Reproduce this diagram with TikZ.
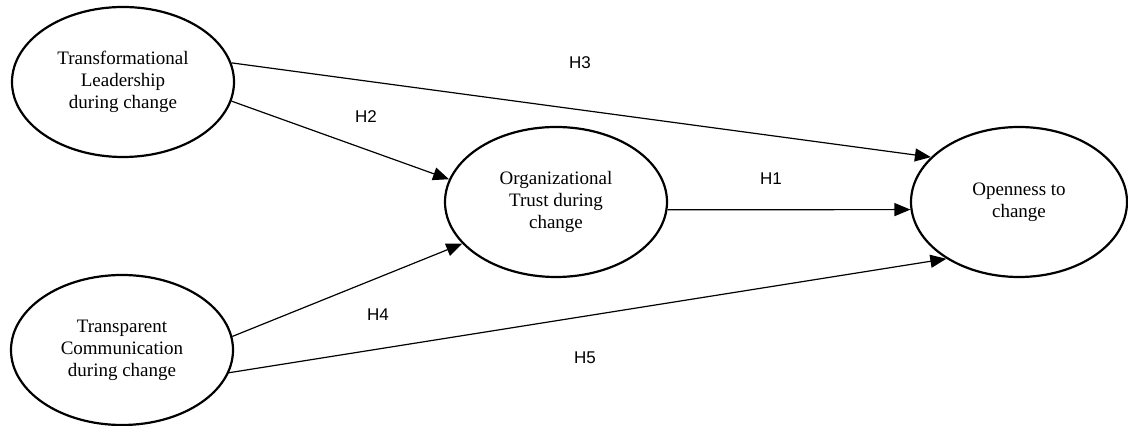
\documentclass[tikz,border=0pt]{standalone}
\usepackage{fontspec}
\setmainfont{Liberation Serif}
\newfontfamily\labelfont{Liberation Sans}
\usetikzlibrary{shapes.geometric, arrows.meta}

\begin{document}
\begin{tikzpicture}[x=0.5pt, y=-0.5pt,
        construct/.style={ellipse, draw, line width=1.1pt, minimum width=111pt, minimum height=75pt,
            inner sep=0pt, align=center, font=\fontsize{9.5}{11}\selectfont},
        hyp/.style={-{Triangle[length=8pt, width=6.5pt]}, line width=0.6pt},
        hlabel/.style={font=\labelfont\fontsize{8.5}{10}\selectfont}]
        \useasboundingbox (0, 0) rectangle (1128, 426);

        \node[construct] (tl) at (123, 82) {Transformational\\Leadership\\during change};
        \node[construct] (tc) at (122, 350) {Transparent\\Communication\\during change};
        \node[construct] (ot) at (556, 202) {Organizational\\Trust during\\change};
        \node[construct, minimum width=108pt] (oc) at (1019, 202) {Openness to\\change};

        \node[hlabel] (h1) at (771, 179) {H1};
        \node[hlabel] (h2) at (366, 117) {H2};
        \node[hlabel] (h3) at (580, 63) {H3};
        \node[hlabel] (h4) at (378, 315) {H4};
        \node[hlabel] (h5) at (585, 358) {H5};

        \draw[hyp] (ot.-4) -- (oc.184);
        \draw[hyp] (tl.-10) -- (ot.168);
        \draw[hyp] (tl.10) -- (oc.153);
        \draw[hyp] (tc.7) -- (ot.204);
        \draw[hyp] (tc.-12) -- (oc.218);
    \end{tikzpicture}
\end{document}
